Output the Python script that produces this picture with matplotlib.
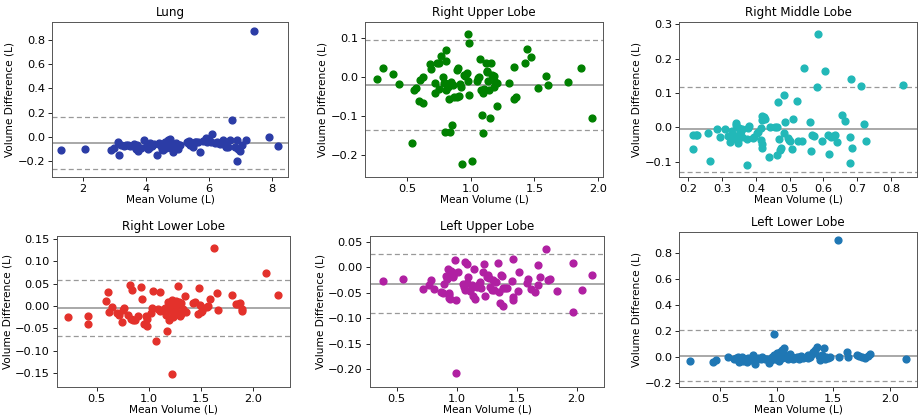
import numpy as np
import matplotlib
matplotlib.use("Agg")
import matplotlib.pyplot as plt
from matplotlib.ticker import MultipleLocator

# (mean volume, volume difference) pairs, one list per region
lung_pts = [(1.33, -0.11), (2.06, -0.105), (2.89, -0.11), (3.0, -0.09), (3.11, -0.04), (3.15, -0.15),
            (3.21, -0.07), (3.3, -0.075), (3.37, -0.07), (3.45, -0.07), (3.5, -0.08), (3.62, -0.06),
            (3.65, -0.085), (3.69, -0.10), (3.73, -0.07), (3.76, -0.116), (3.85, -0.09), (3.95, -0.03),
            (4.02, -0.083), (4.05, -0.065), (4.08, -0.105), (4.1, -0.09), (4.13, -0.05), (4.18, -0.077),
            (4.25, -0.06), (4.34, -0.152), (4.42, -0.055), (4.45, -0.07), (4.5, -0.083), (4.52, -0.10),
            (4.55, -0.11), (4.58, -0.065), (4.6, -0.04), (4.63, -0.09), (4.66, -0.07), (4.69, -0.045),
            (4.71, -0.028), (4.73, -0.08), (4.76, -0.022), (4.78, -0.06), (4.81, -0.097), (4.84, -0.06),
            (4.87, -0.124), (4.9, -0.10), (4.92, -0.083), (4.97, -0.055), (5.0, -0.075), (5.03, -0.105),
            (5.05, -0.065), (5.08, -0.07), (5.29, -0.04), (5.33, -0.05), (5.37, -0.033), (5.4, -0.065),
            (5.45, -0.055), (5.5, -0.083), (5.55, -0.045), (5.6, -0.04), (5.65, -0.045), (5.73, -0.124),
            (5.82, -0.033), (5.92, -0.014), (5.95, -0.04), (6.01, -0.028), (6.05, -0.045), (6.11, 0.019),
            (6.19, -0.05), (6.25, -0.045), (6.29, -0.055), (6.35, -0.06), (6.43, -0.028), (6.5, -0.07),
            (6.55, -0.085), (6.61, -0.083), (6.66, -0.028), (6.73, 0.138), (6.82, -0.083), (6.87, -0.028),
            (6.89, -0.20), (6.93, -0.105), (6.98, -0.116), (7.03, -0.07), (7.17, -0.028), (7.43, 0.877),
            (7.91, -0.005), (8.19, -0.075)]

rul_pts = [(0.259, -0.005), (0.306, 0.025), (0.39, 0.008), (0.437, -0.017), (0.534, -0.17), (0.555, -0.033),
           (0.566, -0.028), (0.59, -0.06), (0.6, -0.007), (0.621, 0.002), (0.624, -0.067), (0.681, 0.034),
           (0.687, 0.021), (0.718, -0.014), (0.721, -0.041), (0.731, 0.036), (0.75, 0.036), (0.75, -0.031),
           (0.768, 0.055), (0.781, 0.002), (0.789, -0.014), (0.794, -0.142), (0.8, -0.015), (0.802, 0.07),
           (0.805, 0.043), (0.805, -0.033), (0.818, -0.02), (0.82, -0.025), (0.826, -0.055), (0.836, -0.142),
           (0.842, -0.013), (0.852, -0.123), (0.86, -0.02), (0.868, -0.052), (0.889, -0.05), (0.894, 0.019),
           (0.902, 0.025), (0.91, -0.048), (0.915, -0.017), (0.923, -0.024), (0.934, -0.224), (0.95, 0.005),
           (0.955, 0.003), (0.973, 0.01), (0.976, -0.009), (0.978, 0.111), (0.983, -0.045), (0.989, 0.088),
           (1.007, -0.216), (1.047, -0.009), (1.057, -0.002), (1.068, 0.002), (1.07, 0.046), (1.078, -0.033),
           (1.091, -0.097), (1.096, -0.143), (1.099, -0.04), (1.1, -0.03), (1.12, 0.036), (1.125, 0.017),
           (1.131, 0.014), (1.136, -0.009), (1.146, -0.033), (1.152, -0.106), (1.157, 0.038), (1.167, 0.006),
           (1.183, 0.003), (1.183, -0.024), (1.191, -0.011), (1.202, -0.073), (1.204, -0.014), (1.304, -0.016),
           (1.341, 0.026), (1.341, -0.056), (1.354, -0.051), (1.425, 0.038), (1.438, 0.072), (1.477, 0.052),
           (1.527, -0.028), (1.588, 0.003), (1.611, -0.021), (1.764, -0.012), (1.864, 0.025), (1.953, -0.104)]

rml_pts = [(0.214, -0.023), (0.214, -0.064), (0.222, -0.023), (0.226, -0.023), (0.259, -0.018), (0.264, -0.097),
           (0.286, -0.004), (0.294, -0.029), (0.307, -0.005), (0.317, -0.026), (0.324, -0.042), (0.328, -0.01),
           (0.333, -0.029), (0.338, -0.026), (0.34, 0.013), (0.342, 0.006), (0.344, -0.037), (0.348, -0.045),
           (0.35, -0.003), (0.352, -0.013), (0.356, -0.01), (0.358, -0.004), (0.36, -0.029), (0.372, -0.11),
           (0.372, -0.033), (0.376, -0.003), (0.38, 0.004), (0.39, -0.031), (0.394, -0.028), (0.402, -0.016),
           (0.407, -0.013), (0.415, -0.003), (0.415, -0.037), (0.417, 0.033), (0.419, 0.021), (0.423, 0.029),
           (0.427, 0.023), (0.417, -0.049), (0.419, -0.059), (0.439, -0.088), (0.441, 0.0), (0.457, 0.002),
           (0.461, 0.0), (0.465, 0.074), (0.463, -0.082), (0.469, -0.033), (0.471, -0.066), (0.475, -0.059),
           (0.482, 0.094), (0.484, -0.018), (0.486, 0.015), (0.496, -0.03), (0.498, -0.036), (0.5, -0.041),
           (0.51, 0.023), (0.508, -0.064), (0.523, 0.077), (0.524, -0.039), (0.536, -0.039), (0.541, 0.174),
           (0.56, 0.015), (0.563, -0.068), (0.565, -0.022), (0.571, -0.026), (0.58, 0.116), (0.585, 0.272),
           (0.597, -0.039), (0.603, 0.165), (0.612, -0.022), (0.617, -0.079), (0.623, -0.028), (0.629, -0.024),
           (0.634, -0.022), (0.64, -0.043), (0.655, 0.037), (0.664, 0.019), (0.68, -0.028), (0.681, 0.14),
           (0.68, -0.103), (0.684, -0.06), (0.711, 0.121), (0.721, 0.01), (0.727, -0.039), (0.837, 0.122)]

rll_pts = [(0.228, -0.025), (0.42, -0.021), (0.42, -0.039), (0.586, 0.012), (0.611, 0.031), (0.618, -0.013),
           (0.643, -0.001), (0.695, -0.016), (0.714, -0.019), (0.739, -0.036), (0.749, -0.008), (0.765, -0.004),
           (0.797, -0.019), (0.822, 0.047), (0.841, 0.037), (0.829, -0.028), (0.848, -0.031), (0.867, -0.032),
           (0.892, -0.022), (0.924, 0.043), (0.937, 0.016), (0.956, -0.04), (0.982, -0.044), (0.969, -0.022),
           (0.985, -0.029), (1.02, -0.016), (1.026, -0.005), (1.042, 0.034), (1.068, -0.078), (1.084, -0.007),
           (1.103, -0.01), (1.103, 0.031), (1.122, -0.008), (1.15, -0.005), (1.164, -0.02), (1.17, -0.056),
           (1.186, 0.01), (1.192, -0.03), (1.205, -0.007), (1.218, 0.002), (1.224, 0.014), (1.224, -0.152),
           (1.23, -0.025), (1.234, -0.012), (1.244, -0.02), (1.256, -0.001), (1.26, 0.012), (1.266, 0.006),
           (1.276, -0.016), (1.282, 0.044), (1.288, 0.01), (1.298, -0.023), (1.307, 0.008), (1.31, -0.018),
           (1.327, -0.007), (1.346, 0.022), (1.352, -0.014), (1.426, 0.007), (1.441, 0.01), (1.467, -0.018),
           (1.48, 0.04), (1.493, 0.003), (1.5, -0.014), (1.512, -0.011), (1.52, -0.005), (1.553, -0.002),
           (1.569, 0.001), (1.582, 0.017), (1.624, 0.13), (1.652, 0.029), (1.659, -0.008), (1.793, 0.026),
           (1.834, 0.005), (1.857, 0.005), (1.876, 0.006), (1.889, -0.007), (1.895, -0.01), (2.122, 0.074),
           (2.24, 0.024)]

lul_pts = [(0.383, -0.028), (0.555, -0.024), (0.722, -0.043), (0.772, -0.035), (0.789, -0.025), (0.811, -0.043),
           (0.872, -0.048), (0.889, -0.05), (0.897, -0.034), (0.911, -0.017), (0.922, -0.024), (0.93, -0.004),
           (0.936, -0.05), (0.94, -0.055), (0.938, -0.06), (0.944, -0.063), (0.95, -0.008), (0.966, -0.012),
           (0.966, -0.017), (0.972, -0.02), (0.978, -0.012), (0.989, 0.013), (0.994, -0.064), (0.994, -0.208),
           (1.014, -0.009), (1.05, -0.033), (1.061, -0.038), (1.066, 0.011), (1.07, -0.045), (1.083, 0.006),
           (1.088, -0.032), (1.097, -0.019), (1.11, -0.046), (1.125, -0.035), (1.13, -0.038), (1.138, -0.056),
           (1.144, -0.004), (1.152, -0.063), (1.166, -0.038), (1.178, -0.036), (1.194, -0.029), (1.2, -0.04),
           (1.216, -0.009), (1.227, 0.006), (1.233, -0.056), (1.25, -0.019), (1.26, -0.015), (1.266, -0.022),
           (1.278, -0.038), (1.291, -0.045), (1.305, -0.025), (1.31, -0.045), (1.328, -0.03), (1.344, 0.008),
           (1.35, -0.048), (1.36, -0.07), (1.366, -0.015), (1.377, -0.018), (1.383, -0.041), (1.389, -0.077),
           (1.4, -0.041), (1.416, -0.041), (1.458, -0.028), (1.466, -0.064), (1.472, -0.058), (1.466, 0.015),
           (1.514, -0.046), (1.522, -0.009), (1.583, -0.032), (1.597, -0.024), (1.622, -0.043), (1.655, -0.048),
           (1.68, 0.004), (1.694, -0.019), (1.68, -0.035), (1.741, 0.035), (1.758, -0.025), (1.778, -0.024),
           (1.833, -0.047), (1.972, 0.008), (1.972, -0.088), (2.041, -0.045), (2.13, -0.016)]

lll_pts = [(0.235, -0.031), (0.441, -0.039), (0.465, -0.026), (0.568, -0.005), (0.62, -0.015), (0.638, -0.008),
           (0.656, -0.026), (0.66, -0.005), (0.668, -0.039), (0.679, -0.013), (0.691, 0.0), (0.7, -0.025),
           (0.706, -0.034), (0.721, -0.018), (0.735, -0.039), (0.75, -0.008), (0.76, -0.02), (0.779, -0.026),
           (0.794, 0.013), (0.8, -0.03), (0.809, -0.052), (0.824, -0.013), (0.838, -0.008), (0.86, -0.015),
           (0.874, 0.0), (0.9, -0.02), (0.912, -0.013), (0.932, -0.045), (0.95, -0.026), (0.962, 0.0),
           (0.974, 0.013), (0.979, 0.176), (0.985, -0.013), (0.99, 0.0), (1.0, 0.026), (1.015, -0.026),
           (1.021, -0.034), (1.03, 0.039), (1.038, -0.008), (1.044, 0.052), (1.05, -0.01), (1.059, 0.034),
           (1.068, 0.066), (1.088, 0.008), (1.1, 0.005), (1.103, -0.013), (1.118, 0.018), (1.132, 0.0),
           (1.147, -0.013), (1.162, -0.008), (1.176, 0.0), (1.197, -0.013), (1.2, 0.0), (1.215, 0.008),
           (1.235, -0.008), (1.256, 0.0), (1.274, 0.013), (1.28, -0.01), (1.294, 0.0), (1.309, 0.018),
           (1.324, 0.034), (1.338, 0.052), (1.359, 0.079), (1.37, 0.01), (1.382, -0.026), (1.397, 0.013),
           (1.42, 0.066), (1.43, -0.015), (1.432, 0.0), (1.45, -0.008), (1.474, -0.003), (1.544, 0.90),
           (1.553, -0.003), (1.618, 0.034), (1.632, 0.0), (1.706, 0.013), (1.726, 0.008), (1.756, 0.0),
           (1.779, -0.008), (1.803, 0.008), (1.824, 0.018), (2.138, -0.013)]

# bias (solid) and limits of agreement (dashed)
lung_lines = (-0.05, -0.27, 0.166)
rul_lines = (-0.02, -0.137, 0.097)
rml_lines = (-0.006, -0.129, 0.118)
rll_lines = (-0.004, -0.067, 0.059)
lul_lines = (-0.033, -0.09, 0.025)
lll_lines = (0.01, -0.19, 0.21)

titles = ["Lung", "Right Upper Lobe", "Right Middle Lobe",
          "Right Lower Lobe", "Left Upper Lobe", "Left Lower Lobe"]

plt.rcParams['font.size'] = 7.6
plt.rcParams['axes.linewidth'] = 0.7
plt.rcParams['axes.edgecolor'] = '#555555'
plt.rcParams['xtick.major.size'] = 2.6
plt.rcParams['ytick.major.size'] = 2.6
plt.rcParams['xtick.major.width'] = 0.6
plt.rcParams['ytick.major.width'] = 0.6
plt.rcParams['xtick.major.pad'] = 2.2
plt.rcParams['ytick.major.pad'] = 2.5
plt.rcParams['xtick.labelsize'] = 8.2
plt.rcParams['ytick.labelsize'] = 8.2

W, H = 919, 418
fig = plt.figure(figsize=(W / 100, H / 100), dpi=100)

def px_rect(l, r, t, b):
    return [l / W, 1 - b / H, (r - l) / W, (b - t) / H]

panels = [
    (lung_pts, lung_lines, '#2b3ca6', px_rect(52, 288, 22, 177), (1.03, 8.5), (-0.333, 0.95), 2, 0.2),
    (rul_pts, rul_lines, '#008000', px_rect(365, 603, 22, 177), (0.167, 2.04), (-0.257, 0.1425), 0.5, 0.1),
    (rml_pts, rml_lines, '#22b8b8', px_rect(679, 917, 22, 177), (0.172, 0.877), (-0.145, 0.307), 0.1, 0.1),
    (rll_pts, rll_lines, '#e3312b', px_rect(57, 290, 236, 387), (0.12, 2.351), (-0.181, 0.157), 0.5, 0.05),
    (lul_pts, lul_lines, '#b020a2', px_rect(370, 604, 236, 387), (0.2775, 2.228), (-0.235, 0.061), 0.5, 0.05),
    (lll_pts, lll_lines, '#1f77b4', px_rect(679, 917, 232, 387), (0.138, 2.239), (-0.233, 0.964), 0.5, 0.2),
]

for title, (pts, lines, color, rect, xlim, ylim, xstep, ystep) in zip(titles, panels):
    ax = fig.add_axes(rect)
    pts = np.array(pts)
    ax.scatter(pts[:, 0], pts[:, 1], s=24, color=color, zorder=3)
    bias, lo, hi = lines
    ax.axhline(bias, color='#999999', lw=1.2, zorder=2)
    ax.axhline(lo, color='#999999', lw=0.9, ls='--', dashes=(4, 2.5), zorder=2)
    ax.axhline(hi, color='#999999', lw=0.9, ls='--', dashes=(4, 2.5), zorder=2)
    ax.set_xlim(*xlim)
    ax.set_ylim(*ylim)
    ax.xaxis.set_major_locator(MultipleLocator(xstep))
    ax.yaxis.set_major_locator(MultipleLocator(ystep))
    ax.set_title(title, fontsize=8.6, pad=4)
    ax.set_xlabel("Mean Volume (L)", labelpad=0.5)
    ax.set_ylabel("Volume Difference (L)", labelpad=2)

fig.savefig("out.png", dpi=100)
